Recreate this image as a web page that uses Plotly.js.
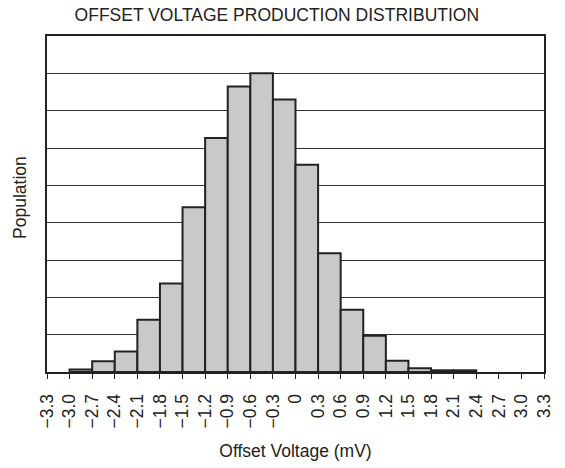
<!DOCTYPE html>
<html>
<head>
<meta charset="utf-8">
<script src="https://cdn.plot.ly/plotly-3.0.1.min.js"></script>
<style>html,body{margin:0;padding:0;background:#fff;}#chart{width:565px;height:468px;}</style>
</head>
<body>
<div id="chart"></div>
<script>
// Bin centers (mV), bin width 0.3
const binCenters = [-2.85, -2.55, -2.25, -1.95, -1.65, -1.35, -1.05, -0.75, -0.45, -0.15,
                    0.15, 0.45, 0.75, 1.05, 1.35, 1.65, 1.95, 2.25];
// Population (relative units, grid = 1 unit)
const population = [0.07, 0.29, 0.55, 1.40, 2.37, 4.41, 6.27, 7.65, 8.0, 7.30,
                    5.55, 3.18, 1.67, 0.97, 0.30, 0.10, 0.045, 0.045];
const tickValues = [-3.3, -3.0, -2.7, -2.4, -2.1, -1.8, -1.5, -1.2, -0.9, -0.6, -0.3, 0,
                    0.3, 0.6, 0.9, 1.2, 1.5, 1.8, 2.1, 2.4, 2.7, 3.0, 3.3];
const tickLabels = ["\u22123.3", "\u22123.0", "\u22122.7", "\u22122.4", "\u22122.1", "\u22121.8", "\u22121.5",
                    "\u22121.2", "\u22120.9", "\u22120.6", "\u22120.3", "0", "0.3", "0.6", "0.9", "1.2",
                    "1.5", "1.8", "2.1", "2.4", "2.7", "3.0", "3.3"];
const binWidth = 0.3;

const font = {family: 'Liberation Sans, Arial, sans-serif', color: '#222'};

Plotly.newPlot('chart', [{
  type: 'bar',
  x: binCenters,
  y: population,
  width: binWidth,
  marker: {color: '#c8c9cb', line: {color: '#222', width: 2}},
  hoverinfo: 'x+y'
}], {
  width: 565, height: 468,
  margin: {l: 47, r: 21, t: 36, b: 96},
  paper_bgcolor: '#fff', plot_bgcolor: '#fff',
  font: Object.assign({size: 17}, font),
  showlegend: false,
  bargap: 0,
  title: {text: 'OFFSET VOLTAGE PRODUCTION DISTRIBUTION', font: Object.assign({size: 17.5}, font), x: 0.49, xanchor: 'center', y: 0.968, yanchor: 'middle'},
  xaxis: {
    range: [-3.3, 3.3],
    tickvals: tickValues, ticktext: tickLabels,
    tickangle: -90,
    ticks: 'outside', ticklen: 5, tickwidth: 1, tickcolor: '#222',
    ticklabelstandoff: 8,
    showline: true, linecolor: '#222', linewidth: 2, mirror: true,
    showgrid: false, zeroline: false,
    tickfont: Object.assign({size: 17.5}, font),
    title: {text: 'Offset Voltage (mV)', font: Object.assign({size: 17.5}, font), standoff: 17}
  },
  yaxis: {
    range: [0, 9], dtick: 1, tick0: 0,
    showticklabels: false, ticks: '',
    showline: true, linecolor: '#222', linewidth: 2, mirror: true,
    showgrid: true, gridcolor: '#333', gridwidth: 1, zeroline: false
  },
  annotations: [{
    text: 'Population', textangle: -90, showarrow: false,
    xref: 'paper', yref: 'paper', x: -0.053, y: 0.52, xanchor: 'center', yanchor: 'middle',
    font: Object.assign({size: 17.5}, font)
  }]
}, {displayModeBar: false, staticPlot: true});
</script>
</body>
</html>
